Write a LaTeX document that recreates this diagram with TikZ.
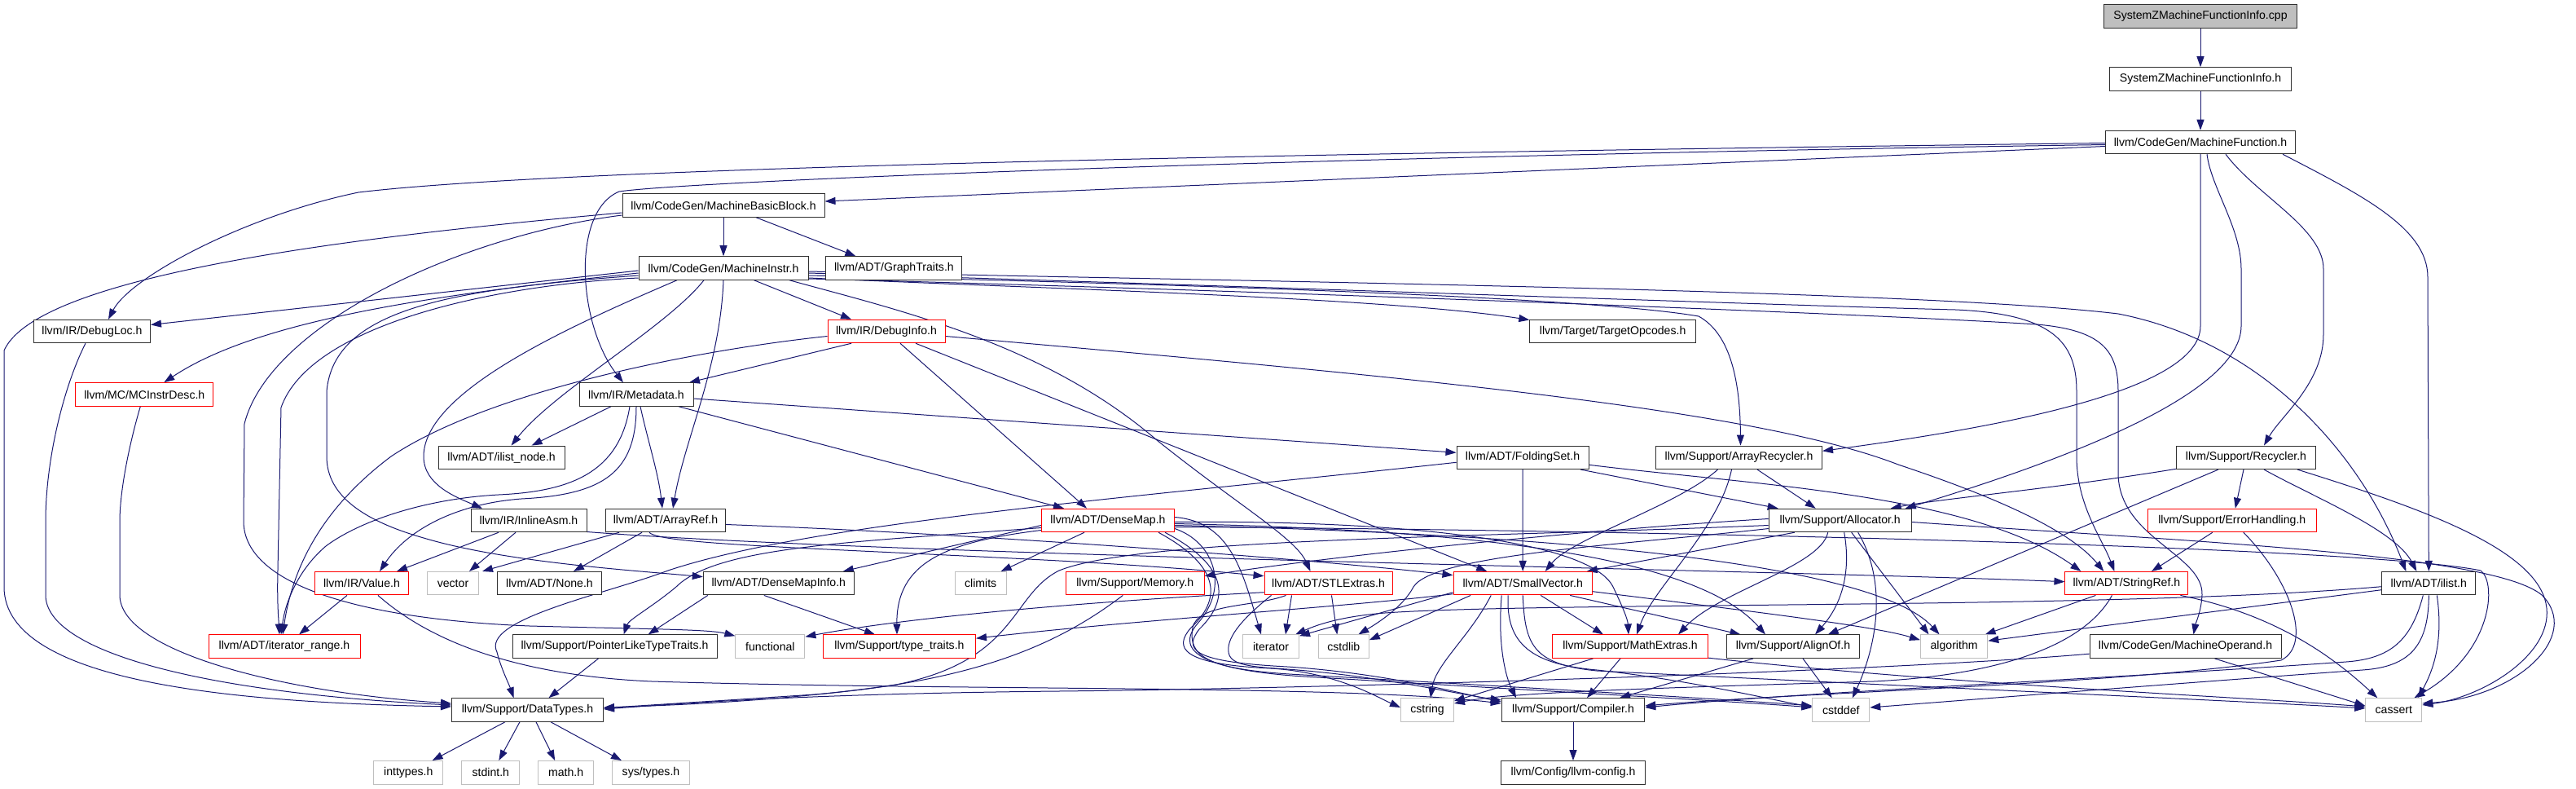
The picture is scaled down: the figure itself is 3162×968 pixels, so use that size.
\documentclass[tikz,border=0pt]{standalone}
\usepackage{fontspec}
\setmainfont{Liberation Sans}
\usetikzlibrary{arrows.meta}
\definecolor{edgec}{HTML}{191970}
\definecolor{graybd}{HTML}{BFBFBF}
\definecolor{boxbd}{HTML}{303030}
\pgfdeclarelayer{bg}
\pgfsetlayers{bg,main}
\begin{document}
\begin{tikzpicture}[x=1pt,y=-1pt,
  box/.style={draw=boxbd,line width=1pt,fill=white,minimum height=28.5pt,inner sep=0pt,font=\fontsize{14.1}{16}\selectfont},
  redbox/.style={box,draw=red},
  graybox/.style={box,draw=graybd},
  dep/.style={draw=edgec,line width=1pt,-{Triangle[length=13pt,width=9pt]}}]
\useasboundingbox (0,0) rectangle (3162,968);
% nodes
\node[box,fill=graybd,minimum width=237pt] (cpp) at (2701,20) {SystemZMachineFunctionInfo.cpp};
\node[box,minimum width=223pt] (szh) at (2701,97) {SystemZMachineFunctionInfo.h};
\node[box,minimum width=233pt] (MF) at (2701,174.5) {llvm/CodeGen/MachineFunction.h};
\node[box,minimum width=248pt] (MBB) at (888,252) {llvm/CodeGen/MachineBasicBlock.h};
\node[box,minimum width=208pt] (MI) at (888,329) {llvm/CodeGen/MachineInstr.h};
\node[box,minimum width=167pt] (GT) at (1097.4,329) {llvm/ADT/GraphTraits.h};
\node[box,minimum width=143pt] (DL) at (113,406.5) {llvm/IR/DebugLoc.h};
\node[redbox,minimum width=144pt] (DI) at (1088,406.5) {llvm/IR/DebugInfo.h};
\node[box,minimum width=203.5pt] (TO) at (1979.6,406.5) {llvm/Target/TargetOpcodes.h};
\node[redbox,minimum width=169pt] (MC) at (177.3,484) {llvm/MC/MCInstrDesc.h};
\node[box,minimum width=140pt] (MD) at (781,484) {llvm/IR/Metadata.h};
\node[box,minimum width=155pt] (ILN) at (615.6,561.3) {llvm/ADT/ilist\_node.h};
\node[box,minimum width=162pt] (FS) at (1869,561.3) {llvm/ADT/FoldingSet.h};
\node[box,minimum width=204pt] (AR) at (2134.5,561.3) {llvm/Support/ArrayRecycler.h};
\node[box,minimum width=171pt] (RC) at (2757,561.3) {llvm/Support/Recycler.h};
\node[box,minimum width=142pt] (IA) at (649,638.5) {llvm/IR/InlineAsm.h};
\node[box,minimum width=147pt] (ARef) at (817,638.5) {llvm/ADT/ArrayRef.h};
\node[redbox,minimum width=163pt] (DM) at (1360,638.5) {llvm/ADT/DenseMap.h};
\node[box,minimum width=175pt] (AL) at (2258.7,638.5) {llvm/Support/Allocator.h};
\node[redbox,minimum width=207pt] (EH) at (2739.8,638.5) {llvm/Support/ErrorHandling.h};
\node[redbox,minimum width=115pt] (VA) at (444,715.7) {llvm/IR/Value.h};
\node[graybox,minimum width=63pt] (VEC) at (556,715.7) {vector};
\node[box,minimum width=128pt] (NONE) at (674.5,715.7) {llvm/ADT/None.h};
\node[box,minimum width=185pt] (DMI) at (955.8,715.7) {llvm/ADT/DenseMapInfo.h};
\node[graybox,minimum width=63pt] (CL) at (1203.7,715.7) {climits};
\node[redbox,minimum width=169.4pt] (MEM) at (1393.3,715.7) {llvm/Support/Memory.h};
\node[redbox,minimum width=157pt] (STL) at (1630.5,715.7) {llvm/ADT/STLExtras.h};
\node[redbox,minimum width=170.4pt] (SV) at (1869.2,715.7) {llvm/ADT/SmallVector.h};
\node[redbox,minimum width=151pt] (SR) at (2610.4,715.7) {llvm/ADT/StringRef.h};
\node[box,minimum width=115pt] (IL) at (2981.3,715.7) {llvm/ADT/ilist.h};
\node[redbox,minimum width=186pt] (IR) at (349,793.2) {llvm/ADT/iterator\_range.h};
\node[box,minimum width=251pt] (PL) at (754.5,793.2) {llvm/Support/PointerLikeTypeTraits.h};
\node[graybox,minimum width=85pt] (FN) at (945.4,793.2) {functional};
\node[redbox,minimum width=187pt] (TT) at (1104,793.2) {llvm/Support/type\_traits.h};
\node[graybox,minimum width=69pt] (IT) at (1560,793.2) {iterator};
\node[graybox,minimum width=62pt] (CSL) at (1649.3,793.2) {cstdlib};
\node[redbox,minimum width=191pt] (ME) at (2001,793.2) {llvm/Support/MathExtras.h};
\node[box,minimum width=163pt] (AO) at (2201,793.2) {llvm/Support/AlignOf.h};
\node[graybox,minimum width=82.4pt] (ALG) at (2398.6,793.2) {algorithm};
\node[box,minimum width=235pt] (MO) at (2682.5,793.2) {llvm/CodeGen/MachineOperand.h};
\node[box,minimum width=186pt] (DT) at (647.5,871) {llvm/Support/DataTypes.h};
\node[graybox,minimum width=65pt] (CST) at (1752,871) {cstring};
\node[box,minimum width=175.5pt] (CMP) at (1931,871) {llvm/Support/Compiler.h};
\node[graybox,minimum width=70pt] (CDF) at (2259.8,871) {cstddef};
\node[graybox,minimum width=69pt] (CAS) at (2938.3,871) {cassert};
\node[graybox,minimum width=85pt] (INT) at (501.3,947.8) {inttypes.h};
\node[graybox,minimum width=71pt] (STD) at (602.3,947.8) {stdint.h};
\node[graybox,minimum width=68pt] (MATH) at (694.7,947.8) {math.h};
\node[graybox,minimum width=95pt] (SYS) at (799,947.8) {sys/types.h};
\node[box,minimum width=177.6pt] (CFG) at (1931,947.8) {llvm/Config/llvm-config.h};
\begin{pgfonlayer}{bg}
% top chain
\draw[dep] (cpp.south) -- (szh.north);
\draw[dep] (szh.south) -- (MF.north);
% MachineFunction
\draw[dep] ([yshift=-5pt]MF.west) -- ([yshift=5pt]MBB.east);
\draw[dep] ([yshift=-1pt]MF.west) .. controls (1600,188) and (700,205) .. (440,236) .. controls (300,265) and (160,340) .. ([xshift=20pt]DL.north);
\draw[dep] ([yshift=-3pt]MF.west) .. controls (1600,192) and (850,222) .. (760,235) .. controls (700,260) and (710,400) .. ([xshift=-16pt]MD.north);
\draw[dep] (MF.south) -- (2701,400) .. controls (2701,480) and (2450,525) .. ([yshift=8pt]AR.east);
\draw[dep] ([xshift=8pt]MF.south) .. controls (2714,230) and (2751,280) .. (2751,330) -- (2751,400) .. controls (2751,480) and (2550,560) .. ([xshift=80pt]AL.north);
\draw[dep] ([xshift=31pt]MF.south) .. controls (2770,240) and (2852,280) .. (2852,330) -- (2852,410) .. controls (2852,470) and (2800,510) .. ([xshift=22pt]RC.north);
\draw[dep] ([xshift=101pt]MF.south) .. controls (2900,240) and (2980,280) .. (2980,340) -- (IL.north);
% MachineBasicBlock
\draw[dep] (MBB.south) -- (MI.north);
\draw[dep] ([xshift=40pt]MBB.south) -- ([xshift=-47pt]GT.north);
\draw[dep] ([yshift=-9pt]MBB.west) .. controls (500,285) and (50,330) .. (5,430) -- (5,720) .. controls (5,840) and (300,862) .. ([yshift=4pt]DT.west);
\draw[dep] ([yshift=-12pt]MBB.west) .. controls (560,290) and (330,400) .. (300,520) -- (299,640) .. controls (300,720) and (450,760) .. (650,768) .. controls (800,772) and (870,772) .. ([yshift=13pt]FN.west);
% MachineInstr
\draw[dep] (MI.south) .. controls (884,450) and (840,540) .. ([xshift=9pt]ARef.north);
\draw[dep] ([xshift=37.5pt]MI.south) -- ([xshift=-43pt]DI.north);
\draw[dep] ([xshift=81pt]MI.south) .. controls (1100,380) and (1280,420) .. (1420,540) .. controls (1520,620) and (1590,660) .. ([xshift=-22pt]STL.north);
\draw[dep] ([xshift=-24pt]MI.south) .. controls (820,400) and (680,480) .. ([xshift=12pt]ILN.north);
\draw[dep] ([xshift=-57pt]MI.south) .. controls (700,400) and (520,480) .. (520,560) .. controls (520,595) and (560,610) .. ([xshift=-57pt]IA.north);
\draw[dep] ([yshift=-3pt]MI.west) -- ([yshift=8pt]DL.east);
\draw[dep] ([yshift=-6pt]MI.west) .. controls (550,360) and (320,390) .. ([xshift=24pt]MC.north);
\draw[dep] ([yshift=-9pt]MI.west) .. controls (550,355) and (410,380) .. (401,480) -- (401,560) .. controls (401,610) and (450,640) .. (520,660) .. controls (620,690) and (780,700) .. ([yshift=8pt]DMI.west);
\draw[dep] ([yshift=-12pt]MI.west) .. controls (600,350) and (380,400) .. (345,500) -- (341,700) .. controls (340,740) and (342,760) .. ([xshift=-6pt]IR.north);
\draw[dep] ([yshift=-12pt]MI.east) .. controls (1300,355) and (1700,365) .. ([yshift=14pt]TO.west);
\draw[dep] ([yshift=-9pt]MI.east) .. controls (1500,350) and (1950,365) .. (2085,388) .. controls (2125,410) and (2136,470) .. ([xshift=2pt]AR.north);
\draw[dep] ([yshift=-4pt]MI.east) .. controls (1500,345) and (2350,355) .. (2600,385) .. controls (2780,420) and (2900,560) .. ([xshift=-28pt]IL.north);
\draw[dep] ([yshift=-6pt]MI.east) .. controls (1500,350) and (2200,375) .. (2400,380) .. controls (2520,385) and (2549,420) .. (2549,480) -- (2549,560) .. controls (2549,620) and (2580,660) .. ([xshift=-15pt]SR.north);
\draw[dep] ([yshift=-13pt]MI.east) .. controls (1500,355) and (2300,385) .. (2500,398) .. controls (2580,405) and (2600,430) .. (2600,480) -- (2600,580) .. controls (2600,660) and (2705,680) .. (2703,730) .. controls (2702,750) and (2695,765) .. ([xshift=10pt]MO.north);
% DebugLoc, MCInstrDesc
\draw[dep] ([xshift=-8pt]DL.south) .. controls (80,470) and (56,560) .. (56,640) -- (56,730) .. controls (56,800) and (250,850) .. ([yshift=6pt]DT.west);
\draw[dep] ([xshift=-5pt]MC.south) .. controls (160,540) and (147,600) .. (147,640) -- (147,730) .. controls (147,800) and (350,850) .. ([yshift=8pt]DT.west);
% DebugInfo
\draw[dep] ([xshift=-43pt]DI.south) -- ([xshift=65pt]MD.north);
\draw[dep] ([xshift=17pt]DI.south) -- ([xshift=-26pt]DM.north);
\draw[dep] ([xshift=36pt]DI.south) -- ([xshift=-44pt]SV.north);
\draw[dep] ([yshift=-6pt]DI.west) .. controls (850,430) and (600,480) .. (480,560) .. controls (400,620) and (360,690) .. ([xshift=-2pt]IR.north);
\draw[dep] ([yshift=-6pt]DI.east) .. controls (1700,460) and (2150,500) .. (2330,570) .. controls (2450,610) and (2540,650) .. ([xshift=-28pt]SR.north);
% Metadata
\draw[dep] ([xshift=-31pt]MD.south) -- ([xshift=37pt]ILN.north);
\draw[dep] ([xshift=-8pt]MD.south) .. controls (760,580) and (700,603) .. (612,607) .. controls (520,612) and (440,640) .. (400,670) .. controls (365,700) and (350,740) .. ([xshift=-4pt]IR.north);
\draw[dep] (MD.south) .. controls (781,580) and (740,607) .. (640,612) .. controls (560,618) and (500,650) .. ([xshift=22pt]VA.north);
\draw[dep] ([xshift=5pt]MD.south) .. controls (795,540) and (808,580) .. ([xshift=-4pt]ARef.north);
\draw[dep] ([xshift=52pt]MD.south) -- ([xshift=-54pt]DM.north);
\draw[dep] ([yshift=-5pt]MD.east) -- ([yshift=6pt]FS.west);
% FoldingSet
\draw[dep] (FS.south) -- (SV.north);
\draw[dep] ([xshift=71pt]FS.south) -- ([xshift=-76pt]AL.north);
\draw[dep] ([yshift=-9pt]FS.east) .. controls (2150,595) and (2420,605) .. ([xshift=-56pt]SR.north);
\draw[dep] ([yshift=-6pt]FS.west) .. controls (1400,610) and (1000,640) .. (820,700) .. controls (740,730) and (590,760) .. (610,800) .. controls (615,820) and (625,840) .. ([xshift=-17pt]DT.north);
% ArrayRecycler
\draw[dep] ([xshift=-26pt]AR.south) .. controls (2060,620) and (1930,660) .. ([xshift=27.5pt]SV.north);
\draw[dep] ([xshift=-9pt]AR.south) .. controls (2110,650) and (2030,720) .. ([xshift=8pt]ME.north);
\draw[dep] ([xshift=22.5pt]AR.south) -- ([xshift=-30pt]AL.north);
% Recycler
\draw[dep] ([yshift=-14pt]RC.west) .. controls (2520,600) and (2380,612) .. ([xshift=62pt]AL.north);
\draw[dep] ([xshift=-34pt]RC.south) -- ([xshift=42.7pt]AO.north);
\draw[dep] ([xshift=-3pt]RC.south) -- ([xshift=4pt]EH.north);
\draw[dep] ([xshift=22pt]RC.south) .. controls (2840,610) and (2940,650) .. ([xshift=-15pt]IL.north);
\draw[dep] ([xshift=63pt]RC.south) .. controls (2960,620) and (3110,670) .. (3125,740) .. controls (3138,800) and (3050,855) .. ([yshift=6pt]CAS.east);
% ErrorHandling
\draw[dep] ([xshift=-24pt]EH.south) -- ([xshift=30.6pt]SR.north);
\draw[dep] ([xshift=14pt]EH.south) .. controls (2810,710) and (2840,790) .. (2800,810) .. controls (2600,840) and (2200,850) .. ([yshift=5pt]CMP.east);
% Allocator
\draw[dep] ([xshift=-56pt]AL.south) -- ([xshift=78.6pt]SV.north);
\draw[dep] ([xshift=-15pt]AL.south) .. controls (2235,695) and (2110,725) .. ([xshift=59pt]ME.north);
\draw[dep] ([xshift=5pt]AL.south) .. controls (2272,700) and (2262,740) .. ([xshift=27pt]AO.north);
\draw[dep] ([xshift=14pt]AL.south) -- ([xshift=-31pt]ALG.north);
\draw[dep] ([xshift=22pt]AL.south) .. controls (2320,720) and (2300,800) .. ([xshift=14pt]CDF.north);
\draw[dep] ([yshift=-2pt]AL.east) .. controls (2700,665) and (3060,680) .. (3120,730) .. controls (3170,780) and (3090,855) .. ([yshift=8pt]CAS.east);
\draw[dep] ([yshift=2pt]AL.west) .. controls (1950,650) and (1650,680) .. ([yshift=9pt]MEM.east);
\draw[dep] ([yshift=-6pt]AL.west) .. controls (1800,660) and (1400,660) .. (1300,700) .. controls (1240,730) and (1250,810) .. (1100,840) .. controls (950,862) and (800,866) .. ([yshift=3pt]DT.east);
\draw[dep] ([yshift=-10pt]AL.west) .. controls (2000,668) and (1760,680) .. (1735,720) .. controls (1722,745) and (1690,765) .. ([xshift=18pt]CSL.north);
% DenseMap
\draw[dep] ([yshift=-6pt]DM.west) -- ([xshift=79pt]DMI.north);
\draw[dep] ([xshift=-29pt]DM.south) -- ([xshift=25pt]CL.north);
\draw[dep] ([yshift=-12pt]DM.west) .. controls (1160,665) and (1100,690) .. ([xshift=-3pt]TT.north);
\draw[dep] ([yshift=-9pt]DM.west) .. controls (1050,665) and (880,670) .. (830,720) .. controls (800,745) and (772,760) .. ([xshift=11pt]PL.north);
\draw[dep] ([yshift=-2pt]DM.east) .. controls (1700,638) and (1950,660) .. (1980,720) .. controls (1992,745) and (1998,760) .. ([xshift=-2pt]ME.north);
\draw[dep] ([yshift=-4pt]DM.east) .. controls (1800,650) and (2080,680) .. ([xshift=-34pt]AO.north);
\draw[dep] ([yshift=-6pt]DM.east) .. controls (1900,655) and (2300,690) .. ([xshift=-18pt]ALG.north);
\draw[dep] ([yshift=-8pt]DM.east) .. controls (2000,650) and (2900,670) .. (3045,700) .. controls (3065,715) and (3060,800) .. ([xshift=25pt]CAS.north);
\draw[dep] ([yshift=-10pt]DM.east) .. controls (1490,665) and (1510,720) .. (1470,765) .. controls (1440,800) and (1480,822) .. (1600,830) .. controls (1900,848) and (2150,862) .. ([yshift=3pt]CDF.west);
\draw[dep] ([xshift=62pt]DM.south) .. controls (1490,690) and (1505,730) .. (1462,770) .. controls (1440,795) and (1450,815) .. (1560,820) .. controls (1640,825) and (1690,855) .. ([yshift=3pt]CST.west);
\draw[dep] ([xshift=70pt]DM.south) .. controls (1500,690) and (1515,730) .. (1472,772) .. controls (1452,798) and (1465,812) .. (1580,818) .. controls (1700,826) and (1790,850) .. ([yshift=10pt]CMP.west);
\draw[dep] ([yshift=4pt]DM.east) .. controls (1510,640) and (1525,700) .. ([xshift=-12pt]IT.north);
% STLExtras
\draw[dep] ([yshift=-11pt]STL.west) .. controls (1300,740) and (1100,760) .. ([yshift=12pt]FN.east);
\draw[dep] ([xshift=-45pt]STL.south) -- ([xshift=18pt]IT.north);
\draw[dep] ([xshift=4pt]STL.south) -- ([xshift=-8pt]CSL.north);
\draw[dep] ([xshift=-70pt]STL.south) .. controls (1530,755) and (1505,780) .. (1508,800) .. controls (1510,815) and (1530,818) .. (1580,821) .. controls (1700,830) and (1790,852) .. ([yshift=12pt]CMP.west);
\draw[dep] ([xshift=-52pt]STL.south) .. controls (1540,745) and (1470,740) .. (1464,770) .. controls (1458,805) and (1480,822) .. (1600,828) .. controls (1900,845) and (2150,860) .. ([yshift=5pt]CDF.west);
% SmallVector
\draw[dep] ([yshift=-13pt]SV.west) .. controls (1650,745) and (1400,760) .. ([yshift=10pt]TT.east);
\draw[dep] ([yshift=-11pt]SV.west) -- ([yshift=13pt]IT.east);
\draw[dep] ([xshift=-64pt]SV.south) -- ([yshift=8pt]CSL.east);
\draw[dep] ([xshift=-39pt]SV.south) .. controls (1805,780) and (1762,815) .. ([xshift=4pt]CST.north);
\draw[dep] ([xshift=-26pt]SV.south) .. controls (1838,790) and (1848,830) .. ([xshift=-70pt]CMP.north);
\draw[dep] ([xshift=22pt]SV.south) -- ([xshift=-33pt]ME.north);
\draw[dep] ([xshift=58pt]SV.south) -- ([xshift=-64.5pt]AO.north);
\draw[dep] ([yshift=-10pt]SV.east) .. controls (2150,750) and (2300,768) .. ([yshift=8pt]ALG.west);
\draw[dep] ([xshift=-18pt]SV.south) .. controls (1848,790) and (1880,815) .. (1960,822) .. controls (2080,835) and (2180,860) .. ([yshift=4pt]CDF.west);
\draw[dep] (SV.south) .. controls (1872,790) and (1880,815) .. (1960,823) .. controls (2300,840) and (2750,860) .. ([yshift=2pt]CAS.west);
% MathExtras, AlignOf
\draw[dep] ([xshift=-45.5pt]ME.south) -- ([yshift=11pt]CST.east);
\draw[dep] ([xshift=-12pt]ME.south) -- ([xshift=17pt]CMP.north);
\draw[dep] ([yshift=-14pt]ME.east) .. controls (2400,840) and (2750,855) .. ([yshift=4pt]CAS.west);
\draw[dep] ([xshift=-49pt]AO.south) -- ([xshift=57pt]CMP.north);
\draw[dep] ([xshift=12pt]AO.south) -- ([xshift=-11pt]CDF.north);
% ilist
\draw[dep] ([yshift=-4pt]IL.west) .. controls (2600,748) and (1900,738) .. (1700,752) .. controls (1650,756) and (1620,765) .. ([xshift=30pt]IT.north);
\draw[dep] ([yshift=-8pt]IL.west) -- ([yshift=7pt]ALG.east);
\draw[dep] ([xshift=-7pt]IL.south) .. controls (2960,785) and (2935,808) .. (2880,812) .. controls (2550,835) and (2200,850) .. ([yshift=3pt]CMP.east);
\draw[dep] (IL.south) .. controls (2981,790) and (2960,818) .. (2900,822) .. controls (2650,840) and (2400,860) .. ([yshift=3pt]CDF.east);
\draw[dep] ([xshift=10pt]IL.south) .. controls (3000,790) and (2985,825) .. ([xshift=30pt]CAS.north);
% StringRef
\draw[dep] ([xshift=-38pt]SR.south) -- ([xshift=38pt]ALG.north);
\draw[dep] ([xshift=66pt]SR.south) .. controls (2800,755) and (2870,812) .. ([xshift=-20pt]CAS.north);
\draw[dep] ([xshift=-18pt]SR.south) .. controls (2560,790) and (2460,828) .. (2300,836) .. controls (2000,845) and (1850,850) .. ([yshift=8pt]CST.east);
% MachineOperand
\draw[dep] ([yshift=-9pt]MO.west) .. controls (2300,825) and (1600,845) .. (1300,848) .. controls (1000,851) and (850,862) .. ([yshift=1pt]DT.east);
\draw[dep] ([xshift=36pt]MO.south) -- ([yshift=5pt]CAS.west);
% Value, InlineAsm, ArrayRef
\draw[dep] ([xshift=-18pt]VA.south) -- ([xshift=18pt]IR.north);
\draw[dep] ([xshift=20pt]VA.south) .. controls (520,780) and (620,828) .. (800,836) .. controls (1200,848) and (1650,840) .. ([yshift=8pt]CMP.west);
\draw[dep] ([xshift=-37pt]IA.south) -- ([xshift=43pt]VA.north);
\draw[dep] ([xshift=-16pt]IA.south) -- ([xshift=20pt]VEC.north);
\draw[dep] ([yshift=-14pt]IA.east) .. controls (1100,682) and (2200,700) .. ([yshift=2pt]SR.west);
\draw[dep] ([xshift=-57pt]ARef.south) -- ([xshift=36pt]VEC.north);
\draw[dep] ([xshift=-29pt]ARef.south) -- ([xshift=29.5pt]NONE.north);
\draw[dep] ([yshift=-5pt]ARef.east) .. controls (1200,655) and (1600,685) .. ([yshift=10pt]SV.west);
\draw[dep] ([xshift=-20pt]ARef.south) .. controls (810,668) and (1000,672) .. (1300,688) .. controls (1460,697) and (1510,703) .. ([yshift=9pt]STL.west);
% DenseMapInfo, PointerLike, Memory
\draw[dep] ([xshift=-87pt]DMI.south) -- ([xshift=41pt]PL.north);
\draw[dep] ([xshift=-18pt]DMI.south) -- ([xshift=-30pt]TT.north);
\draw[dep] ([xshift=-20pt]PL.south) -- ([xshift=26pt]DT.north);
\draw[dep] ([xshift=-15pt]MEM.south) .. controls (1300,790) and (1200,835) .. (1000,852) .. controls (850,862) and (780,866) .. ([yshift=2pt]DT.east);
% DataTypes, Compiler
\draw[dep] ([xshift=-27.5pt]DT.south) -- ([xshift=29.3pt]INT.north);
\draw[dep] ([xshift=-9.5pt]DT.south) -- ([xshift=10pt]STD.north);
\draw[dep] ([xshift=10.5pt]DT.south) -- ([xshift=-13.5pt]MATH.north);
\draw[dep] ([xshift=28.5pt]DT.south) -- ([xshift=-36pt]SYS.north);
\draw[dep] (CMP.south) -- (CFG.north);
\end{pgfonlayer}
\end{tikzpicture}
\end{document}
